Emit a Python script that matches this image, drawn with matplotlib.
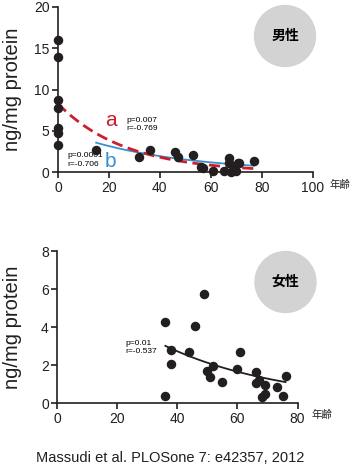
import matplotlib
matplotlib.use('Agg')
import matplotlib.pyplot as plt
import numpy as np
from matplotlib.patches import Circle

plt.rcParams['font.family'] = ['Liberation Sans', 'Noto Sans CJK JP', 'DejaVu Sans']

# male data (age, ng/mg protein)
male_age = [0, 0, 0, 0, 0, 0, 0, 15, 32, 36, 46, 47, 53, 56, 57, 61, 65,
            67, 67, 68, 69, 70, 70.5, 71, 77]
male_val = [16.0, 13.9, 8.7, 7.8, 5.3, 4.8, 3.3, 2.7, 1.9, 2.7, 2.45, 1.8,
            2.1, 0.6, 0.5, 0.2, 0.2, 1.75, 1.15, 0.0, 0.65, 0.2, 1.1, 1.15, 1.35]

# female data
female_age = [36, 36, 38, 38, 44, 46, 49, 50, 51, 52, 55, 60, 61, 66, 66,
              67, 69, 68, 69, 73, 75, 76]
female_val = [4.26, 0.4, 2.8, 2.07, 2.68, 4.08, 5.76, 1.72, 1.37, 1.96, 1.1,
              1.79, 2.71, 1.66, 1.05, 1.23, 0.98, 0.35, 0.49, 0.86, 0.4, 1.44]

# fitted exponential curves y = A * exp(-k * x)
fit_a = (8.3, 0.0378, 0, 77)     # A, k, x start, x end
fit_b = (5.15, 0.0242, 15, 77)
fit_f = (7.4, 0.0249, 36, 76)

dark = '#231f20'
red = '#cc1f2d'
blue = '#3a8fd0'

fig = plt.figure(figsize=(3.53, 4.67), dpi=100)

def style(ax, lx):
    ax.patch.set_visible(False)
    for s in ['top', 'right']:
        ax.spines[s].set_visible(False)
    for s in ['left', 'bottom']:
        ax.spines[s].set_color(dark)
        ax.spines[s].set_linewidth(1.2)
    ax.tick_params(direction='out', length=4, width=1.2, color=dark,
                   labelsize=10, labelcolor=dark, pad=2)
    ax.set_ylabel('ng/mg protein', fontsize=14.5, color=dark)
    ax.yaxis.set_label_coords(lx, 0.5)

def curve(ax, p, **kw):
    A, k, x0, x1 = p
    xs = np.linspace(x0, x1, 100)
    ax.plot(xs, A * np.exp(-k * xs), **kw)

# gray circles with labels (drawn behind axes)
H = 467
for cx, cy, lab in [(285, 36, '男性'), (285.5, 282, '女性')]:
    c = Circle((cx / 100, (H - cy) / 100), 0.305, transform=fig.dpi_scale_trans,
               color='#d3d3d3', zorder=-5)
    fig.add_artist(c)
    fig.text(cx / 353, 1 - cy / H, lab, fontsize=10, fontweight='bold',
             ha='center', va='center', color='black',
             family=['Noto Sans CJK JP'])

# top panel: male
ax1 = fig.add_axes([0.164, 0.631, 0.722, 0.3546])
style(ax1, -0.141)
ax1.set_xlim(0, 100)
ax1.set_ylim(0, 20)
ax1.set_xticks([0, 20, 40, 60, 80, 100])
ax1.set_yticks([0, 5, 10, 15, 20])
curve(ax1, fit_a, color=red, lw=2, ls=(0, (4, 2)), zorder=3)
curve(ax1, fit_b, color=blue, lw=1.3, zorder=2)
ax1.scatter(male_age, male_val, s=34, color=dark, zorder=4, clip_on=False)
ax1.text(21, 6.2, 'a', color=red, fontsize=15, ha='center', va='center')
ax1.text(20.5, 1.3, 'b', color=blue, fontsize=15, ha='center', va='center')
ax1.text(27, 6.7, 'p=0.007\nr=-0.769', fontsize=6, va='top', color='black',
         linespacing=1.25)
ax1.text(3.6, 2.4, 'p=0.0001\nr=-0.706', fontsize=6, va='top', color='black',
         linespacing=1.25)
ax1.text(1.107, -0.077, '年齢', transform=ax1.transAxes, fontsize=7.5,
         ha='center', va='center', color=dark)

# bottom panel: female
ax2 = fig.add_axes([0.162, 0.1364, 0.681, 0.326])
style(ax2, -0.147)
ax2.set_xlim(0, 80)
ax2.set_ylim(0, 8)
ax2.set_xticks([0, 20, 40, 60, 80])
ax2.set_yticks([0, 2, 4, 6, 8])
curve(ax2, fit_f, color=dark, lw=1.3, zorder=2)
ax2.scatter(female_age, female_val, s=34, color=dark, zorder=4, clip_on=False)
ax2.text(22.6, 3.35, 'p=0.01\nr=-0.537', fontsize=6, va='top', color='black',
         linespacing=1.25)
ax2.text(1.101, -0.077, '年齢', transform=ax2.transAxes, fontsize=7.5,
         ha='center', va='center', color=dark)

fig.text(0.482, 1 - 458 / H, 'Massudi et al. PLOSone 7: e42357, 2012',
         fontsize=10.5, ha='center', va='center', color=dark)

fig.savefig('out.png', dpi=100)
